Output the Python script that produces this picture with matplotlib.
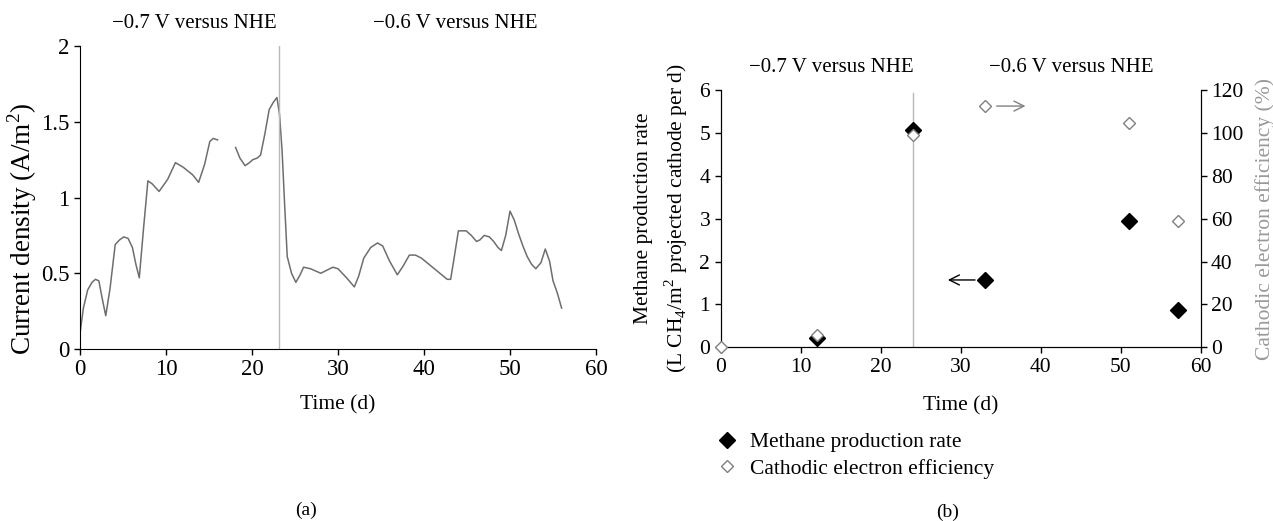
import matplotlib
matplotlib.use("Agg")
import matplotlib.pyplot as plt

plt.rcParams['font.family'] = ['Liberation Serif', 'DejaVu Serif']
plt.rcParams['font.size'] = 15
plt.rcParams['mathtext.fontset'] = 'custom'
plt.rcParams['mathtext.rm'] = 'Liberation Serif'

# (a) current density; first segment ends at day 16, gap until day 18
t_seg1 = [0, 0.4, 0.9, 1.4, 1.8, 2.2, 2.6, 3.0, 3.5, 4.1, 4.6, 5.1, 5.6, 6.1, 6.5, 6.9, 7.4,
          7.9, 8.4, 9.2, 10.2, 11.1, 12.0, 13.1, 13.8, 14.5, 15.1, 15.5, 16.0]
j_seg1 = [0.10, 0.27, 0.39, 0.44, 0.46, 0.45, 0.33, 0.22, 0.40, 0.69, 0.72, 0.74, 0.73, 0.67,
          0.56, 0.47, 0.80, 1.11, 1.09, 1.04, 1.12, 1.23, 1.20, 1.15, 1.10, 1.22, 1.37, 1.39, 1.38]
t_seg2 = [18.1, 18.6, 19.2, 19.7, 20.1, 20.6, 21.0, 21.5, 22.0, 22.5, 22.9, 23.2, 23.5, 23.8,
          24.1, 24.6, 25.1, 25.6, 26.0, 26.8, 28.0, 28.7, 29.4, 30.0, 31.0, 31.9, 32.4, 33.0,
          33.8, 34.6, 35.2, 36.0, 36.9, 37.6, 38.3, 39.0, 39.7, 41.2, 42.7, 43.1, 43.5, 44.0,
          44.9, 45.5, 46.1, 46.5, 47.0, 47.6, 48.1, 48.6, 49.0, 49.5, 50.0, 50.5, 51.0, 51.5,
          52.0, 52.5, 53.0, 53.6, 54.1, 54.6, 55.0, 55.5, 56.0]
j_seg2 = [1.33, 1.26, 1.21, 1.23, 1.25, 1.26, 1.28, 1.42, 1.58, 1.63, 1.66, 1.55, 1.31, 0.95,
          0.61, 0.50, 0.44, 0.49, 0.54, 0.53, 0.50, 0.52, 0.54, 0.53, 0.47, 0.41, 0.48, 0.60,
          0.67, 0.70, 0.68, 0.58, 0.49, 0.55, 0.62, 0.62, 0.60, 0.53, 0.46, 0.46, 0.60, 0.78,
          0.78, 0.75, 0.71, 0.72, 0.75, 0.74, 0.71, 0.67, 0.65, 0.75, 0.91, 0.85, 0.76, 0.68,
          0.61, 0.56, 0.53, 0.57, 0.66, 0.58, 0.45, 0.37, 0.27]
switch_a = 23.1

# (b) methane rate and cathodic efficiency
t_meth = [12, 24, 33, 51, 57.2]
meth = [0.22, 5.07, 1.57, 2.95, 0.86]
t_eff = [0, 12, 24, 33, 51, 57.2]
eff = [0, 5.7, 99, 112.5, 104.7, 59]
switch_b = 24

fig = plt.figure(figsize=(12.73, 5.21), dpi=100)
ax1 = fig.add_axes([0.0628, 0.3301, 0.4054, 0.5816])
ax2 = fig.add_axes([0.5661, 0.3334, 0.3771, 0.4939])
ax3 = ax2.twinx()

# ---- panel (a)
ax1.plot(t_seg1, j_seg1, color='#6e6e6e', lw=1.1)
ax1.plot(t_seg2, j_seg2, color='#6e6e6e', lw=1.1)
ax1.axvline(switch_a, color='#b8b8b8', lw=1.0)
ax1.set_xlim(0, 60)
ax1.set_ylim(0, 2)
ax1.set_xticks(range(0, 61, 10))
ax1.set_yticks([0, 0.5, 1, 1.5, 2])
ax1.set_yticklabels(['0', '0.5', '1', '1.5', '2'])
ax1.spines[['top', 'right']].set_visible(False)
ax1.tick_params(direction='out', length=4, width=1, labelsize=16.5)
ax1.set_xlabel('Time (d)', labelpad=11, fontsize=15.5)
ax1.set_ylabel('Current density (A/m$^2$)', va='center', fontsize=19.5)
ax1.yaxis.set_label_coords(-0.113, 0.396)

fig.text(194 / 1273, 1 - 23 / 521, '\u22120.7 V versus NHE', ha='center', va='center')
fig.text(455 / 1273, 1 - 23 / 521, '\u22120.6 V versus NHE', ha='center', va='center')
fig.text(306 / 1273, 1 - 510 / 521, '(a)', ha='center', va='center', fontsize=14)

# ---- panel (b)
ax2.plot([switch_b, switch_b], [0, 5.93], color='#b8b8b8', lw=1.0)
ax2.plot(t_meth, meth, 'D', color='black', ms=8, zorder=4, label='Methane production rate')
ax3.plot(t_eff, eff, 'D', mfc='white', mec='#808080', mew=1.0, ms=6.5, zorder=3,
         label='Cathodic electron efficiency', clip_on=False)

ax2.set_xlim(0, 60)
ax2.set_ylim(0, 6)
ax3.set_ylim(0, 120)
ax2.set_xticks(range(0, 61, 10))
ax2.set_yticks(range(0, 7))
ax3.set_yticks(range(0, 121, 20))
ax2.spines['top'].set_visible(False)
ax3.spines['top'].set_visible(False)
ax2.tick_params(direction='out', length=4, width=1, labelsize=15.5)
ax3.tick_params(direction='out', length=4, width=1, labelsize=15.5)
ax2.set_xlabel('Time (d)', labelpad=14, fontsize=15.5)
ax2.set_ylabel('Methane production rate\n(L CH$_4$/m$^2$ projected cathode per d)',
               va='center', linespacing=1.45, fontsize=15.5)
ax2.yaxis.set_label_coords(-0.122, 0.5)
ax3.set_ylabel('Cathodic electron efficiency (%)', color='#999999', va='center', fontsize=15.5)
ax3.yaxis.set_label_coords(1.134, 0.5)

ax3.annotate('', xy=(28.4, meth[2] * 20), xytext=(31.8, meth[2] * 20),
             arrowprops=dict(arrowstyle='->', color='black', lw=1.0,
                             shrinkA=0, shrinkB=0, mutation_scale=18))
ax3.annotate('', xy=(38.1, eff[3]), xytext=(34.5, eff[3]),
             arrowprops=dict(arrowstyle='->', color='#808080', lw=1.0,
                             shrinkA=0, shrinkB=0, mutation_scale=18))

fig.text(831 / 1273, 1 - 67 / 521, '\u22120.7 V versus NHE', ha='center', va='center')
fig.text(1071 / 1273, 1 - 67 / 521, '\u22120.6 V versus NHE', ha='center', va='center')
fig.text(948 / 1273, 1 - 512 / 521, '(b)', ha='center', va='center', fontsize=14)

h1, l1 = ax2.get_legend_handles_labels()
h2, l2 = ax3.get_legend_handles_labels()
fig.legend(h1 + h2, l1 + l2, loc='upper left', bbox_to_anchor=(716 / 1273, 1 - 432 / 521),
           frameon=False, handlelength=1.0, handletextpad=0.6, labelspacing=0.3,
           borderaxespad=0, borderpad=0, fontsize=15.5)

fig.savefig('out.png', dpi=100)
